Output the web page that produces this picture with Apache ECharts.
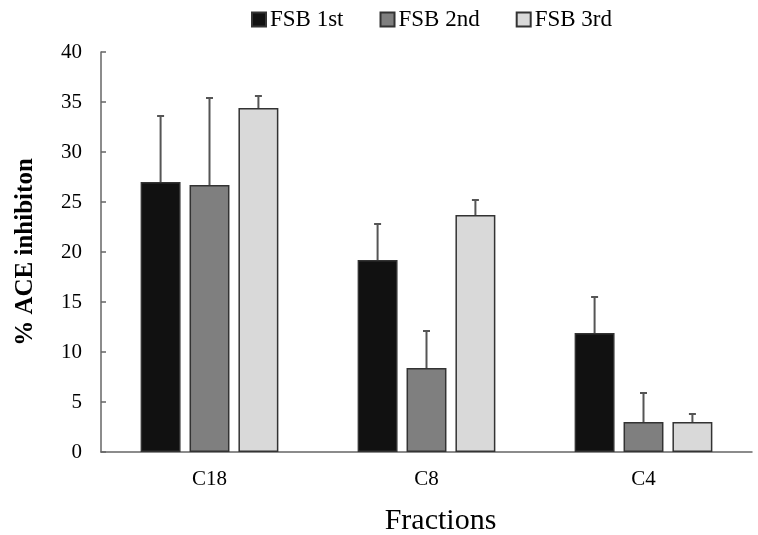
<!DOCTYPE html>
<html>
<head>
<meta charset="utf-8">
<script src="https://cdn.jsdelivr.net/npm/echarts@6/dist/echarts.min.js"></script>
<style>
  html, body { margin: 0; padding: 0; background: #fff; }
  #chart { width: 758px; height: 535px; }
</style>
</head>
<body>
<div id="chart"></div>
<script>
// Fractions and mean ACE inhibition (%) with upper standard deviation
const categories = ['C18', 'C8', 'C4'];
const seriesNames = ['FSB 1st', 'FSB 2nd', 'FSB 3rd'];
const fsb1 = [27.0, 19.2, 11.9];
const fsb2 = [26.7, 8.4, 3.0];
const fsb3 = [34.4, 23.7, 3.0];
const fsb1Err = [6.6, 3.6, 3.6];
const fsb2Err = [8.7, 3.7, 2.9];
const fsb3Err = [1.2, 1.5, 0.8];
const yTicks = [0, 5, 10, 15, 20, 25, 30, 35, 40];

const colors = ['#111111', '#7f7f7f', '#d9d9d9'];
const BAR_FRAC = 0.184;   // bar width as a share of the category band
const GAP_FRAC = 0.225;   // gap between bars as a share of bar width

const values = [fsb1, fsb2, fsb3];
const errors = [fsb1Err, fsb2Err, fsb3Err];
const font = 'Liberation Serif';

function errorSeries(k) {
  return {
    type: 'custom',
    name: seriesNames[k],
    z: 10,
    silent: true,
    data: categories.map((c, i) => [i, values[k][i], values[k][i] + errors[k][i]]),
    renderItem: function (params, api) {
      const i = api.value(0);
      const band = api.size([1, 0])[0];
      const bw = band * BAR_FRAC;
      const off = (k - 1) * (bw * (1 + GAP_FRAC));
      const base = api.coord([i, api.value(1)]);
      const top = api.coord([i, api.value(2)]);
      const x = base[0] + off;
      const style = { stroke: '#555', lineWidth: 2 };
      return {
        type: 'group',
        children: [
          { type: 'line', shape: { x1: x, y1: base[1], x2: x, y2: top[1] }, style: style },
          { type: 'line', shape: { x1: x - 3.5, y1: top[1], x2: x + 3.5, y2: top[1] }, style: style }
        ]
      };
    }
  };
}

const chart = echarts.init(document.getElementById('chart'));
chart.setOption({
  animation: false,
  backgroundColor: '#fff',
  textStyle: { fontFamily: font },
  legend: {
    top: 3,
    left: 246,
    data: seriesNames,
    icon: 'rect',
    itemWidth: 14,
    itemHeight: 14,
    itemGap: 36,
    textStyle: { fontFamily: font, fontSize: 23, color: '#000', padding: [0, 0, 0, -1] }
  },
  grid: { left: 101, right: 6, top: 52, bottom: 83, outerBoundsMode: 'none', containLabel: false },
  xAxis: {
    type: 'category',
    data: categories,
    name: 'Fractions',
    nameLocation: 'middle',
    nameGap: 54,
    nameTextStyle: { fontFamily: font, fontSize: 30, color: '#000', padding: [0, 0, 0, 28] },
    axisLine: { lineStyle: { color: '#666', width: 1.5 } },
    axisTick: { show: false },
    axisLabel: { fontFamily: font, fontSize: 21, color: '#000', margin: 17 }
  },
  yAxis: {
    type: 'value',
    min: yTicks[0],
    max: yTicks[yTicks.length - 1],
    interval: yTicks[1] - yTicks[0],
    name: '% ACE inhibiton',
    nameLocation: 'middle',
    nameGap: 63,
    nameTextStyle: { fontFamily: font, fontSize: 25, fontWeight: 'bold', color: '#000' },
    axisLine: { show: true, lineStyle: { color: '#666', width: 1.5 } },
    axisTick: { show: true, inside: true, length: 5, lineStyle: { color: '#666', width: 1.5 } },
    axisLabel: { fontFamily: font, fontSize: 21, color: '#000', margin: 19 },
    splitLine: { show: false }
  },
  series: values.map((v, k) => ({
    type: 'bar',
    name: seriesNames[k],
    data: v,
    barWidth: (BAR_FRAC * 100) + '%',
    barGap: (GAP_FRAC * 100) + '%',
    itemStyle: { color: colors[k], borderColor: '#333', borderWidth: 1.5 }
  })).concat([0, 1, 2].map(errorSeries))
});
</script>
</body>
</html>
